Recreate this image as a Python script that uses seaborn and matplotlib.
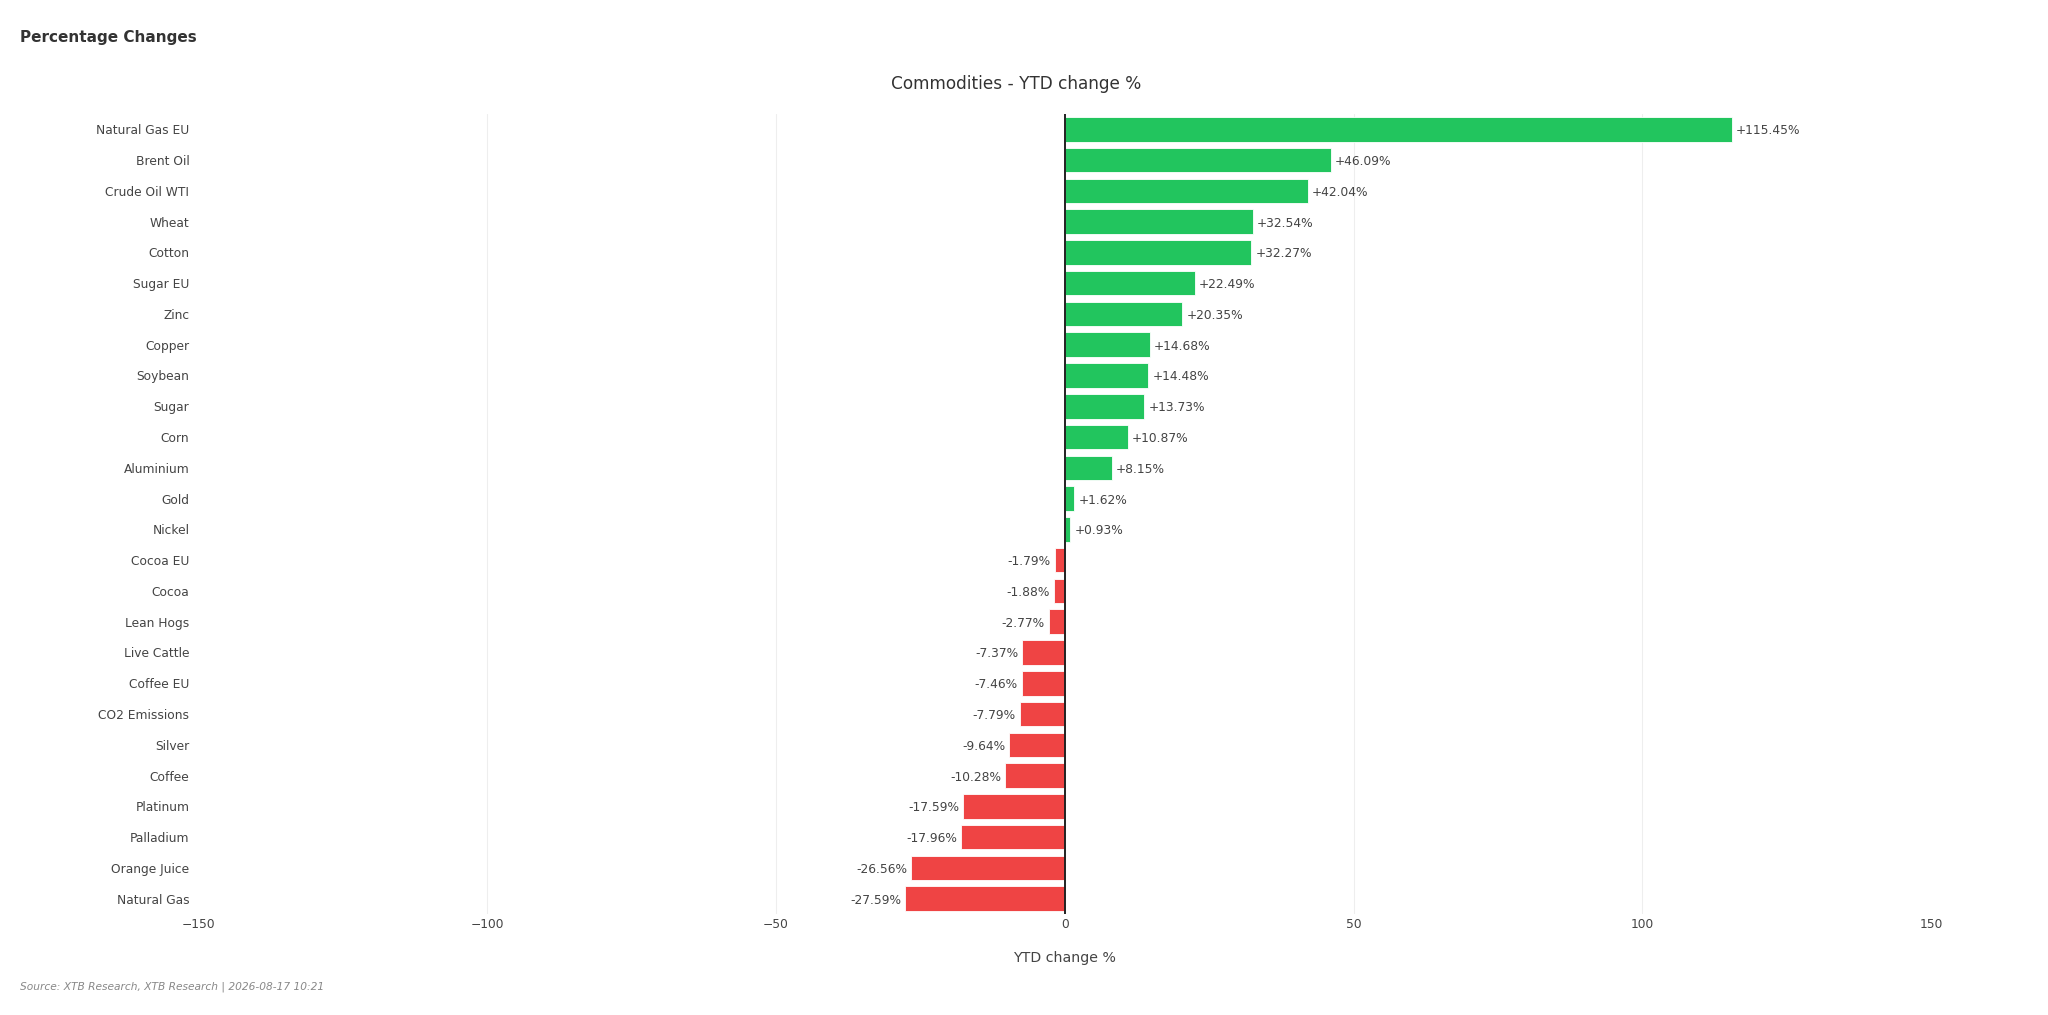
import pandas as pd
import matplotlib
matplotlib.use("Agg")
import matplotlib.pyplot as plt
import seaborn as sns

# Commodities YTD change (%), top to bottom
commodities = [
    "Natural Gas EU", "Brent Oil", "Crude Oil WTI", "Wheat", "Cotton", "Sugar EU",
    "Zinc", "Copper", "Soybean", "Sugar", "Corn", "Aluminium", "Gold", "Nickel",
    "Cocoa EU", "Cocoa", "Lean Hogs", "Live Cattle", "Coffee EU", "CO2 Emissions",
    "Silver", "Coffee", "Platinum", "Palladium", "Orange Juice", "Natural Gas",
]
ytd_change = [
    115.45, 46.09, 42.04, 32.54, 32.27, 22.49,
    20.35, 14.68, 14.48, 13.73, 10.87, 8.15, 1.62, 0.93,
    -1.79, -1.88, -2.77, -7.37, -7.46, -7.79,
    -9.64, -10.28, -17.59, -17.96, -26.56, -27.59,
]
x_ticks = [-150, -100, -50, 0, 50, 100, 150]

df = pd.DataFrame({"commodity": commodities, "change": ytd_change})
df["direction"] = ["up" if v >= 0 else "down" for v in df["change"]]

sns.set_theme(style="white")
plt.rcParams["font.family"] = ["DejaVu Sans"]
text_color = "#444444"

fig = plt.figure(figsize=(20.48, 10.15), dpi=100)
ax = fig.add_axes([0.0969, 0.0994, 0.8461, 0.7884])

sns.barplot(data=df, y="commodity", x="change", hue="direction",
            palette={"up": "#22c55e", "down": "#ef4444"}, orient="h",
            width=0.8, saturation=1, edgecolor="white", linewidth=0.6,
            legend=False, ax=ax)

# value labels next to each bar
for i, v in enumerate(df["change"]):
    if v >= 0:
        ax.annotate(f"+{v:.2f}%", (v, i), xytext=(3, 0), textcoords="offset points",
                    ha="left", va="center_baseline", fontsize=8.8, color=text_color)
    else:
        ax.annotate(f"{v:.2f}%", (v, i), xytext=(-3, 0), textcoords="offset points",
                    ha="right", va="center_baseline", fontsize=8.8, color=text_color)

ax.axvline(0, color="#222222", linewidth=1.4, zorder=3)
ax.set_xlim(-150, 150)
ax.set_xticks(x_ticks)
ax.grid(axis="x", color="#eeeeee", linewidth=0.8)
ax.set_axisbelow(True)
grid = ax.get_xgridlines()
grid[0].set_visible(False)
grid[-1].set_visible(False)
for s in ax.spines.values():
    s.set_visible(False)

ax.tick_params(axis="y", length=0, pad=6.5, labelsize=8.8, labelcolor=text_color)
ax.tick_params(axis="x", length=0, pad=3, labelsize=8.8, labelcolor=text_color)
ax.set_ylabel("")
ax.set_xlabel("YTD change %", fontsize=10.2, color=text_color, labelpad=14)

fig.text(0.496, 0.917, "Commodities - YTD change %", ha="center", va="center",
         fontsize=12.2, color="#333333")
fig.text(0.0096, 0.963, "Percentage Changes", ha="left", va="center",
         fontsize=11, fontweight="bold", color="#333333")
fig.text(0.0096, 0.028, "Source: XTB Research, XTB Research | 2026-08-17 10:21",
         ha="left", va="center", fontsize=7.7, style="italic", color="#888888")

fig.savefig("out.png", dpi=100)
